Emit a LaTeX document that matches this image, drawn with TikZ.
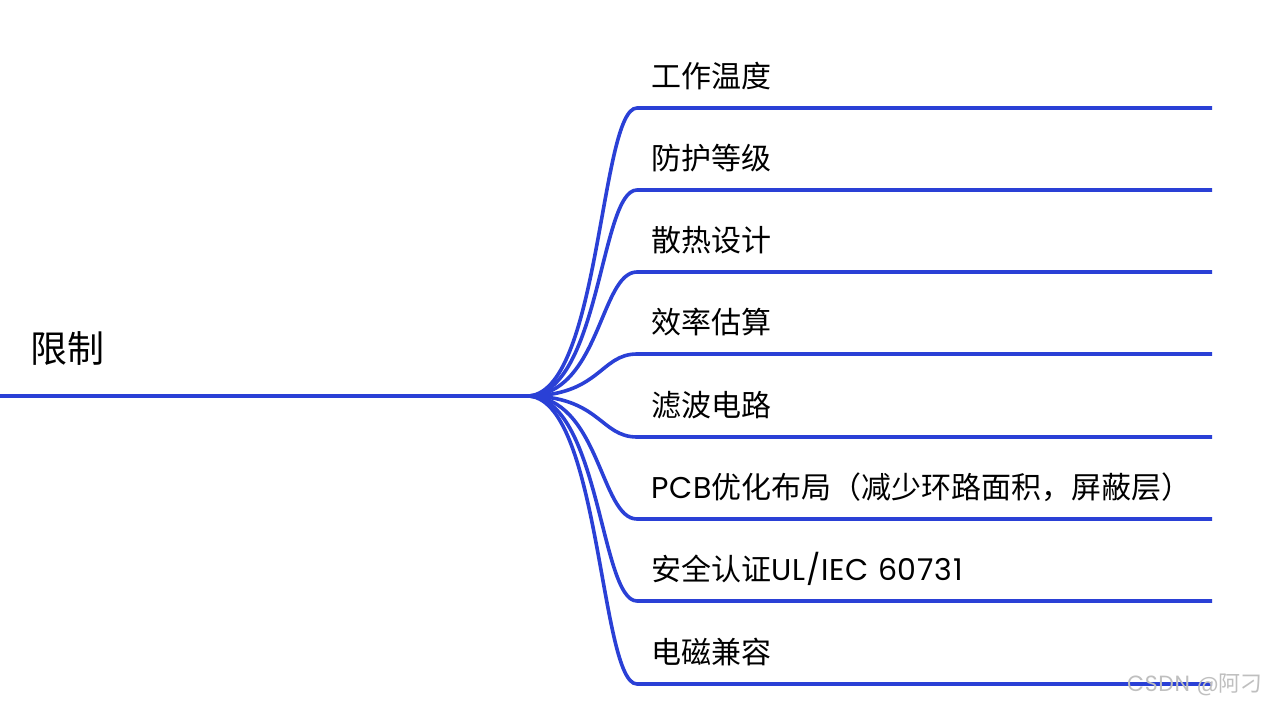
\documentclass[tikz,border=0pt]{standalone}
\usepackage{fontspec}
\setmainfont{Noto Sans CJK SC}
\newfontfamily\lat{Poppins}[LetterSpace=3]
\newfontfamily\wmfont{Noto Sans CJK SC}
\definecolor{branchblue}{RGB}{42,64,214}
\begin{document}
\begin{tikzpicture}[x=1pt,y=-1pt,
  conn/.style={draw=branchblue,line width=3.6pt},
  lbl/.style={anchor=base west,inner sep=0pt,font=\fontsize{30}{30}\selectfont,text=black},
  rootlbl/.style={anchor=base west,inner sep=0pt,font=\fontsize{37}{37}\selectfont,text=black},
  wm/.style={anchor=base west,inner sep=0pt,font=\wmfont\fontsize{22}{22}\selectfont,text=black!25}]
\useasboundingbox (0,0) rectangle (1278,704);
\fill[white] (0,0) rectangle (1278,704);
\coordinate (rs) at (0,396);
\coordinate (hub) at (527,396);
\node[rootlbl] (root) at (30,362) {限制};
\draw[conn] (rs) -- (hub);
\foreach \i/\y/\t in {1/108/工作温度,2/190/防护等级,3/272/散热设计,4/354/效率估算,5/437/滤波电路,6/519/{{\lat PCB}优化布局（减少环路面积，屏蔽层）},7/601/{安全认证{\lat UL/IEC 60731}},8/684/电磁兼容}{
  \coordinate (s\i) at (637,\y);
  \coordinate (e\i) at (1212,\y);
  \draw[conn] (hub) .. controls (600,396) and (600,\y) .. (s\i) -- (e\i);
  \node[lbl] (l\i) at (651,\y-21) {\t};
}
\node[wm] (wm) at (1127,691) {{\lat CSDN @}阿刁};
\end{tikzpicture}
\end{document}
